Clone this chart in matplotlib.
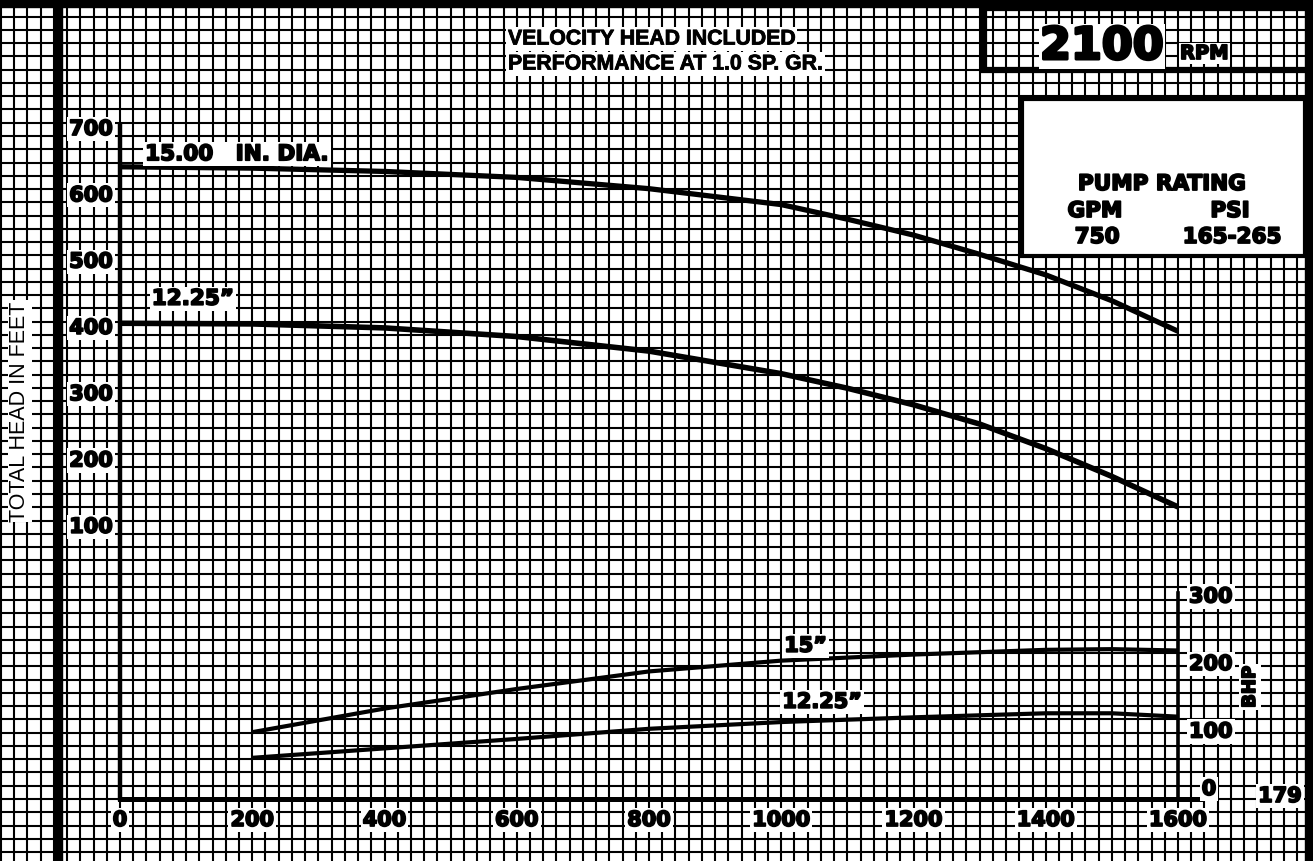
import matplotlib
matplotlib.use('Agg')
import matplotlib.pyplot as plt
import matplotlib.patheffects as pe
import numpy as np
from matplotlib.patches import Rectangle
from matplotlib.transforms import blended_transform_factory

# head curves (ft) vs flow (GPM)
gpm_head = [0, 200, 400, 600, 800, 1000, 1100, 1200, 1300, 1400, 1500, 1600]
head_15 = [643, 641, 636, 627, 610, 586, 564, 540, 511, 480, 441, 395]
head_1225 = [407, 406, 400, 387, 365, 331, 309, 284, 255, 218, 176, 130]

# brake horsepower curves
gpm_bhp = [200, 400, 600, 800, 1000, 1200, 1400, 1500, 1600]
bhp_15 = [99, 134, 163, 189, 205, 214, 221, 222, 220]
bhp_1225 = [61, 75, 89, 104, 114, 121, 127, 127, 122]

head_ticks = [100, 200, 300, 400, 500, 600, 700]
gpm_ticks = [0, 200, 400, 600, 800, 1000, 1200, 1400, 1600]
bhp_ticks = [0, 100, 200, 300]

W, H = 1313, 862
fig = plt.figure(figsize=(W / 100, H / 100), dpi=100)

# graph paper background (pixel coords)
bg = fig.add_axes([0, 0, 1, 1], zorder=0)
bg.set_xlim(0, W)
bg.set_ylim(H, 0)
bg.axis('off')
step_x, step_y = 13.225, 13.26
for x in np.arange(120 % step_x, W, step_x):
    bg.axvline(x, color='black', lw=1.5)
for y in np.arange(800 % step_y, H, step_y):
    bg.axhline(y, color='black', lw=1.5)

# data axes: GPM vs head, and a twin for BHP
ax = fig.add_axes([0, 0, 1, 1], zorder=1)
ax.patch.set_alpha(0)
ax.set_xlim(-181.5, 1804.2)
ax.set_ylim(-404.1, 896.1)
ax.axis('off')
bx = ax.twinx()
bx.set_ylim(-91.85, 1185.2)
bx.axis('off')

ax.plot(gpm_head, head_15, color='black', lw=3.8, solid_capstyle='butt', solid_joinstyle='round')
ax.plot(gpm_head, head_1225, color='black', lw=4.0, solid_capstyle='butt', solid_joinstyle='round')
bx.plot(gpm_bhp, bhp_15, color='black', lw=3.0, solid_capstyle='butt', solid_joinstyle='round')
bx.plot(gpm_bhp, bhp_1225, color='black', lw=3.0, solid_capstyle='butt', solid_joinstyle='round')

# axis lines
hl, bl = ax.get_ylim(), bx.get_ylim()
base_frac = -bl[0] / (bl[1] - bl[0])
top_frac = (705 - hl[0]) / (hl[1] - hl[0])
ax.axvline(0, ymin=base_frac, ymax=top_frac, color='black', lw=3.2)
bx.plot([0, 1633], [0, 0], color='black', lw=3.6)
bx.plot([1600, 1600], [0, 305], color='black', lw=2.6)

heavy = [pe.withStroke(linewidth=1.3, foreground='black')]
lab = dict(fontsize=15, fontweight='bold', family='DejaVu Sans', color='black',
           path_effects=heavy,
           bbox=dict(facecolor='white', edgecolor='none', pad=1.5))

ax.text(38, 662, '15.00   IN. DIA.', ha='left', va='center', **{**lab, 'fontsize': 15.5})
ax.text(48, 444, '12.25\u201d', ha='left', va='center', **{**lab, 'fontsize': 15.5})
bx.text(1037, 227, '15\u201d', ha='center', va='center', **lab)
bx.text(1062, 144, '12.25\u201d', ha='center', va='center', **lab)

# overlay for frame, boxes and titles (pixel coords)
fg = fig.add_axes([0, 0, 1, 1], zorder=3)
fg.patch.set_alpha(0)
fg.set_xlim(0, W)
fg.set_ylim(H, 0)
fg.axis('off')

tr_head = blended_transform_factory(fg.transData, ax.transData)
tr_bhp = blended_transform_factory(fg.transData, bx.transData)
tr_gpm = blended_transform_factory(ax.transData, fg.transData)

for v in head_ticks:
    fg.text(91, v, str(v), transform=tr_head, ha='center', va='center', **lab)
for v in gpm_ticks:
    fg.text(v, 821, str(v), transform=tr_gpm, ha='center', va='center', **lab)
for v in bhp_ticks[1:]:
    fg.text(1189, v, str(v), transform=tr_bhp, ha='left', va='center', **lab)
fg.text(1209, 0, '0', transform=tr_bhp, ha='center', va='bottom', **lab)
fg.text(1280, 797, '179', ha='center', va='center', **lab)
fg.text(1250, 688, 'BHP', rotation=90, ha='center', va='center',
        **{**lab, 'fontsize': 13})

fg.text(20, 412, 'TOTAL HEAD IN FEET', rotation=90, ha='center', va='center',
        fontsize=15.5, family='Liberation Sans', color='black',
        bbox=dict(facecolor='white', edgecolor='none', pad=1.0))

hdr = dict(fontsize=15.3, fontweight='bold', family='Liberation Sans', color='black',
           ha='left', va='center', path_effects=[pe.withStroke(linewidth=0.6, foreground='black')],
           bbox=dict(facecolor='white', edgecolor='none', pad=1.5))
fg.text(508, 40, 'VELOCITY HEAD INCLUDED', **hdr)
fg.text(508, 65, 'PERFORMANCE AT 1.0 SP. GR.', **hdr)

# frame
fg.add_patch(Rectangle((0, 0), W, 8, color='black'))
fg.add_patch(Rectangle((55, 0), 7, H, color='black'))
fg.add_patch(Rectangle((1305, 0), 8, H, color='black'))

# RPM box
fg.add_patch(Rectangle((984, 9), 340, 62, fill=False, edgecolor='black', lw=4.5))
fg.text(1040, 60, '2100', fontsize=32, fontweight='bold', family='DejaVu Sans',
        ha='left', va='baseline', path_effects=[pe.withStroke(linewidth=2.2, foreground='black')],
        bbox=dict(facecolor='white', edgecolor='none', pad=1))
fg.text(1180, 60, 'RPM', fontsize=14, fontweight='bold', family='DejaVu Sans',
        ha='left', va='baseline', path_effects=heavy,
        bbox=dict(facecolor='white', edgecolor='none', pad=1))

# pump rating box
fg.add_patch(Rectangle((1022, 100), 283, 157, facecolor='white', edgecolor='black', lw=3))
box = dict(fontsize=15.5, fontweight='bold', family='DejaVu Sans', color='black',
           ha='center', va='center', path_effects=heavy)
fg.text(1162, 185, 'PUMP RATING', **box)
fg.text(1095, 212, 'GPM', **box)
fg.text(1230, 212, 'PSI', **box)
fg.text(1097, 238, '750', **box)
fg.text(1232, 238, '165-265', **box)

fig.savefig('out.png', dpi=100)
